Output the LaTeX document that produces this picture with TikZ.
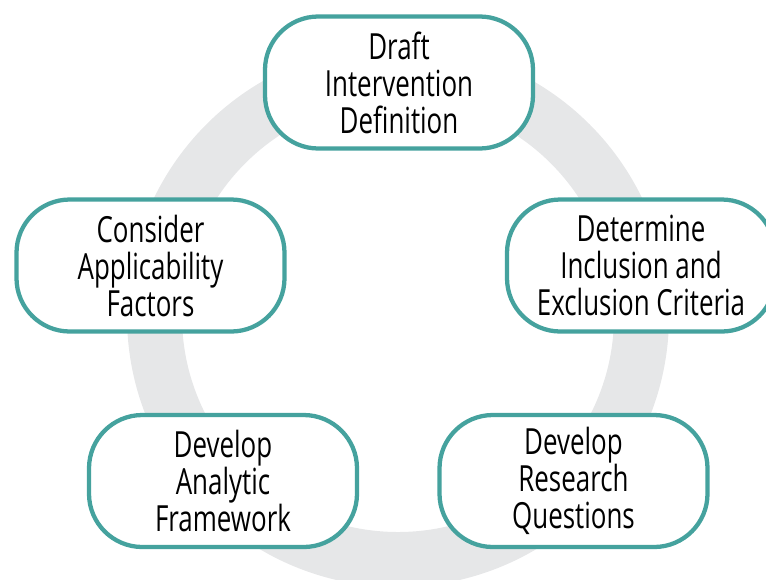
\documentclass[tikz,border=0pt]{standalone}
\usepackage{fontspec}
\newfontfamily\boxfont[FakeStretch=0.72]{Open Sans}
\definecolor{ringgrey}{HTML}{E6E7E8}
\definecolor{boxteal}{HTML}{45A29E}

\begin{document}
\begin{tikzpicture}[x=0.75pt,y=-0.75pt]

      \useasboundingbox (0,0) rectangle (766,579);
      \clip (0,0) rectangle (766,579);

      \draw[ringgrey, line width=41.25pt] (398,316) circle[radius=243.5];

      \begin{scope}[every node/.style={draw=boxteal, line width=3.2pt, fill=white,
          rounded corners=40pt, minimum width=201pt, minimum height=99pt,
          inner sep=0pt, align=center, font=\boxfont\fontsize{27}{27.75}\selectfont}]
        \node (1) at (399,82.5)  {Draft\\Intervention\\Definition};
        \node (2) at (641,265.5) {Determine\\Inclusion and\\Exclusion Criteria};
        \node (3) at (573.5,481) {Develop\\Research\\Questions};
        \node (4) at (223,481)   {Develop\\Analytic\\Framework};
        \node (5) at (150.5,265.5) {Consider\\Applicability\\Factors};
      \end{scope}

    \end{tikzpicture}
\end{document}
